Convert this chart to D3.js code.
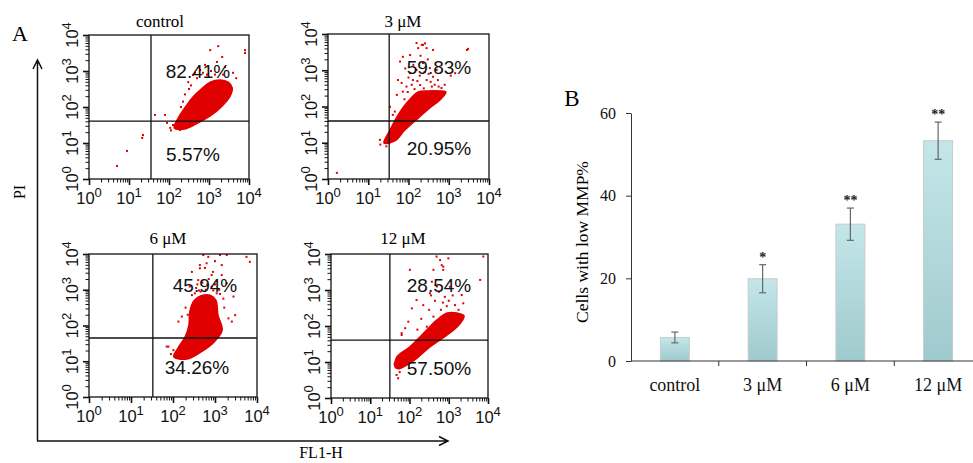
<!DOCTYPE html>
<html>
<head>
<meta charset="utf-8">
<script src="https://cdn.jsdelivr.net/npm/d3@7"></script>
<style>
  body { margin: 0; background: #fff; }
  svg { display: block; }
</style>
</head>
<body>
<svg></svg>
<script>
// --------------- DATA
// flow cytometry values are in log10 decades: [FL1-H, PI]

const panelNames = ['control', '3 \u03bcM', '6 \u03bcM', '12 \u03bcM'];
const upperRightPct = ['82.41%', '59.83%', '45.94%', '28.54%'];
const lowerRightPct = ['5.57%', '20.95%', '34.26%', '57.50%'];
const gateFL1 = [1.55, 1.52, 1.52, 1.50];
const gatePI = [1.61, 1.60, 1.65, 1.61];
const decades = [0, 1, 2, 3, 4];

// outline of the dense population
const controlCloud = [
  [2.13, 1.42], [2.23, 1.69], [2.43, 2.03], [2.60, 2.28], [2.78, 2.47], [3.03, 2.69],
  [3.28, 2.75], [3.48, 2.69], [3.58, 2.53], [3.53, 2.31], [3.33, 2.03], [3.03, 1.75],
  [2.68, 1.53], [2.38, 1.39]
];
const uM3Cloud = [
  [1.39, 0.99], [1.54, 1.35], [1.71, 1.71], [1.89, 2.01], [2.06, 2.23], [2.24, 2.40],
  [2.48, 2.43], [2.78, 2.43], [2.93, 2.40], [2.78, 2.18], [2.53, 1.96], [2.24, 1.68],
  [1.91, 1.35], [1.66, 1.05]
];
const uM6Cloud = [
  [2.02, 1.12], [2.12, 1.37], [2.29, 1.68], [2.38, 2.01], [2.40, 2.38], [2.50, 2.69],
  [2.67, 2.83], [2.88, 2.85], [3.02, 2.71], [3.07, 2.29], [3.17, 1.87], [2.98, 1.54],
  [2.67, 1.26], [2.33, 1.06]
];
const uM12Cloud = [
  [1.63, 0.86], [1.68, 1.14], [2.01, 1.42], [2.34, 1.78], [2.70, 2.17], [2.96, 2.36],
  [3.21, 2.36], [3.39, 2.28], [3.21, 1.97], [2.85, 1.67], [2.52, 1.42], [2.19, 1.11],
  [1.94, 0.92], [1.71, 0.81]
];

// scattered events outside the dense population
const controlDots = [
  [3.90, 3.58], [3.90, 3.50], [3.23, 3.69], [3.03, 3.58], [3.33, 3.39], [2.78, 3.03],
  [2.60, 2.89], [2.48, 2.69], [2.90, 3.17], [3.20, 3.25], [3.40, 3.11], [1.90, 1.78],
  [1.65, 1.78], [1.95, 1.56], [1.35, 1.22], [1.33, 1.14], [0.95, 0.78], [0.70, 0.36],
  [2.10, 1.50], [2.28, 1.36], [2.03, 1.42], [3.68, 2.80], [2.40, 2.35], [2.55, 2.60],
  [2.70, 2.80], [3.05, 3.00], [3.60, 2.95], [2.35, 2.15], [3.15, 2.90], [2.05, 1.35],
  [2.65, 2.95], [2.95, 2.90], [2.85, 2.95], [3.35, 2.90], [2.50, 2.50], [2.30, 2.00]
];
const uM3Dots = [
  [2.33, 3.70], [2.41, 3.74], [2.24, 3.61], [2.45, 3.61], [2.04, 3.42], [1.86, 3.37],
  [1.79, 3.24], [1.74, 2.73], [1.83, 2.65], [1.86, 2.41], [2.04, 2.92], [2.11, 2.73],
  [2.20, 3.01], [2.29, 2.59], [2.45, 2.73], [2.58, 2.55], [2.61, 2.82], [2.73, 2.73],
  [2.82, 2.51], [2.70, 3.01], [2.53, 3.06], [2.36, 3.20], [3.45, 3.56], [3.16, 2.92],
  [1.66, 1.86], [1.61, 1.77], [1.54, 1.99], [1.71, 2.32], [3.48, 3.59], [3.05, 2.85],
  [1.29, 1.08], [0.22, 0.17], [2.61, 3.56], [2.36, 3.70], [2.20, 3.75], [1.95, 2.55],
  [2.00, 2.80], [2.15, 2.48], [2.38, 2.50], [2.50, 2.90], [2.65, 2.60], [1.92, 3.05],
  [2.28, 2.85], [2.90, 2.60], [1.30, 0.95], [1.45, 0.90], [2.08, 2.60], [2.22, 2.70],
  [2.40, 2.95], [2.55, 2.68], [1.98, 2.40], [2.12, 3.15], [2.30, 3.40], [2.48, 3.30],
  [1.90, 2.20], [2.75, 2.55]
];
const uM6Dots = [
  [2.72, 3.97], [2.84, 3.92], [3.12, 3.97], [3.28, 3.97], [3.75, 3.92], [3.83, 3.78],
  [2.64, 3.69], [2.76, 3.61], [2.92, 3.41], [3.16, 3.69], [3.16, 3.41], [2.60, 3.27],
  [2.40, 3.09], [2.92, 3.09], [3.28, 3.18], [3.44, 2.81], [2.21, 2.25], [2.13, 2.11],
  [3.32, 2.20], [3.40, 2.11], [1.89, 1.41], [2.01, 1.31], [2.80, 3.74], [3.04, 2.90],
  [2.52, 2.90], [3.48, 2.29], [1.85, 1.41], [2.64, 3.60], [2.70, 3.20], [2.85, 3.30],
  [3.00, 3.15], [2.55, 3.05], [2.78, 3.00], [3.10, 3.00], [2.45, 2.85], [3.20, 2.75],
  [2.30, 2.50], [2.95, 3.50], [1.95, 1.20], [2.45, 3.50], [3.00, 3.80], [2.66, 2.95],
  [2.58, 3.15], [2.82, 3.15], [2.62, 2.98], [2.96, 2.98], [3.12, 2.88], [2.35, 2.30],
  [3.22, 2.50]
];
const uM12Dots = [
  [2.69, 3.93], [2.78, 3.83], [2.99, 3.88], [2.82, 3.69], [2.61, 3.56], [3.88, 3.93],
  [3.80, 3.28], [2.52, 2.91], [2.18, 2.72], [2.06, 2.49], [2.35, 2.58], [2.90, 2.81],
  [3.16, 2.58], [3.37, 2.63], [3.03, 3.09], [3.33, 2.86], [1.89, 1.94], [1.80, 1.75],
  [1.97, 2.12], [2.61, 2.26], [2.44, 1.98], [1.67, 0.64], [2.86, 3.56], [2.57, 3.23],
  [2.01, 3.56], [1.71, 0.55], [1.80, 1.80], [2.86, 3.65], [2.75, 2.95], [2.65, 2.70],
  [2.95, 2.55], [3.10, 2.85], [2.50, 2.45], [2.80, 2.45], [2.30, 2.20], [3.25, 2.45],
  [2.70, 3.10], [2.20, 1.90], [1.62, 0.95], [1.75, 0.72], [2.85, 2.65], [2.55, 2.85],
  [3.00, 2.70]
];

// bar chart (B)
const groups = ['control', '3 \u03bcM', '6 \u03bcM', '12 \u03bcM'];
const lowMMP = [5.7, 19.9, 33.1, 53.3];
const lowMMPErr = [1.3, 3.4, 3.9, 4.5];
const signif = ['', '*', '**', '**'];
const barTicks = [0, 20, 40, 60];

// --------------- setup
const width = 973;
const height = 463;
const svg = d3.select('svg').attr('width', width).attr('height', height);

const serif = '"Liberation Serif", "Times New Roman", serif';
const sans = '"Liberation Sans", Arial, sans-serif';
const red = '#e00000';

// --------------- A: flow panels
const panels = [
  { cloud: controlCloud, dots: controlDots, box: [89, 249, 179, 35],
    title: [160, 22], upper: [198, 71], lower: [193, 154] },
  { cloud: uM3Cloud, dots: uM3Dots, box: [328, 489, 179, 34],
    title: [403, 22], upper: [439, 67], lower: [439, 148] },
  { cloud: uM6Cloud, dots: uM6Dots, box: [89, 257, 397, 254],
    title: [168, 239], upper: [205, 285], lower: [197, 367] },
  { cloud: uM12Cloud, dots: uM12Dots, box: [331, 488, 398, 254],
    title: [403, 239], upper: [439, 285], lower: [439, 368] }
];

function isMajor(v) {
  return Math.abs(Math.log10(v) - Math.round(Math.log10(v))) < 1e-6;
}

const minorTicks = [];
decades.slice(0, 4).forEach(function (k) {
  for (let m = 1; m < 10; m++) minorTicks.push(m * Math.pow(10, k));
});
minorTicks.push(1e4);

function powLabel(g, x, y, exp, rotate) {
  const t = g.append('text')
    .attr('transform', 'translate(' + x + ',' + y + ')' + (rotate ? ' rotate(-90)' : ''))
    .attr('text-anchor', 'middle')
    .style('font-family', sans)
    .style('font-size', '16.5px')
    .attr('fill', '#111');
  t.append('tspan').text('10');
  t.append('tspan').attr('dy', -7).style('font-size', '13px').text(exp);
}

panels.forEach(function (p, i) {
  const b = p.box;
  const g = svg.append('g');

  const x = d3.scaleLog().domain([1, 1e4]).range([b[0], b[1]]);
  const y = d3.scaleLog().domain([1, 1e4]).range([b[2], b[3]]);
  const px = function (d) { return x(Math.pow(10, d[0])); };
  const py = function (d) { return y(Math.pow(10, d[1])); };

  // events
  g.append('path')
    .datum(p.cloud)
    .attr('d', d3.line().x(px).y(py).curve(d3.curveCatmullRomClosed))
    .attr('fill', red)
    .attr('stroke', red)
    .attr('stroke-width', 1.5);

  g.selectAll('rect.dot')
    .data(p.dots)
    .enter()
    .append('rect')
    .attr('class', 'dot')
    .attr('x', function (d) { return px(d) - 1; })
    .attr('y', function (d) { return py(d) - 1; })
    .attr('width', 2)
    .attr('height', 2)
    .attr('fill', red);

  // quadrant gates
  g.append('line')
    .attr('x1', x(Math.pow(10, gateFL1[i]))).attr('x2', x(Math.pow(10, gateFL1[i])))
    .attr('y1', b[2]).attr('y2', b[3])
    .attr('stroke', '#111').attr('stroke-width', 1.3);
  g.append('line')
    .attr('x1', b[0]).attr('x2', b[1])
    .attr('y1', y(Math.pow(10, gatePI[i]))).attr('y2', y(Math.pow(10, gatePI[i])))
    .attr('stroke', '#111').attr('stroke-width', 1.3);

  // frame
  g.append('rect')
    .attr('x', b[0]).attr('y', b[3])
    .attr('width', b[1] - b[0]).attr('height', b[2] - b[3])
    .attr('fill', 'none').attr('stroke', '#111').attr('stroke-width', 1.3);

  // axes
  const xAxis = g.append('g')
    .attr('transform', 'translate(0,' + b[2] + ')')
    .call(d3.axisBottom(x).tickValues(minorTicks).tickFormat('').tickSizeOuter(0));
  const yAxis = g.append('g')
    .attr('transform', 'translate(' + b[0] + ',0)')
    .call(d3.axisLeft(y).tickValues(minorTicks).tickFormat('').tickSizeOuter(0));
  [xAxis, yAxis].forEach(function (a) {
    a.select('.domain').remove();
    a.selectAll('.tick line')
      .attr('stroke', '#111')
      .attr('stroke-width', function (d) { return isMajor(d) ? 1.6 : 1; });
  });
  xAxis.selectAll('.tick line').attr('y2', function (d) { return isMajor(d) ? 6 : 3.5; });
  yAxis.selectAll('.tick line').attr('x2', function (d) { return isMajor(d) ? -6 : -3.5; });

  decades.forEach(function (k) {
    powLabel(g, x(Math.pow(10, k)), b[2] + 25, k, false);
    powLabel(g, b[0] - 11, y(Math.pow(10, k)), k, true);
  });

  // labels
  g.append('text')
    .attr('x', p.title[0]).attr('y', p.title[1] + 5)
    .attr('text-anchor', 'middle')
    .style('font-family', serif).style('font-size', '17px')
    .text(panelNames[i]);
  g.append('text')
    .attr('x', p.upper[0]).attr('y', p.upper[1] + 7)
    .attr('text-anchor', 'middle')
    .style('font-family', sans).style('font-size', '19px')
    .attr('fill', '#111')
    .text(upperRightPct[i]);
  g.append('text')
    .attr('x', p.lower[0]).attr('y', p.lower[1] + 7)
    .attr('text-anchor', 'middle')
    .style('font-family', sans).style('font-size', '19px')
    .attr('fill', '#111')
    .text(lowerRightPct[i]);
});

// big axes with arrows
svg.append('path')
  .attr('d', 'M37.5,441 L37.5,61 M33,69 L37.5,60 L42,69 M37,441 L447,441 M439,436.5 L448,441 L439,445.5')
  .attr('fill', 'none').attr('stroke', '#111').attr('stroke-width', 1.5);

svg.append('text')
  .attr('x', 20).attr('y', 41)
  .attr('text-anchor', 'middle')
  .style('font-family', serif).style('font-size', '22px')
  .text('A');
svg.append('text')
  .attr('transform', 'translate(25,192) rotate(-90)')
  .attr('text-anchor', 'middle')
  .style('font-family', serif).style('font-size', '16px')
  .text('PI');
svg.append('text')
  .attr('x', 321).attr('y', 458)
  .attr('text-anchor', 'middle')
  .style('font-family', serif).style('font-size', '16px')
  .text('FL1-H');

// --------------- B: bar chart
const bx = d3.scaleBand()
  .domain(groups)
  .range([631, 982])
  .paddingInner(0.67)
  .paddingOuter(0.335);
const by = d3.scaleLinear().domain([0, 60]).range([361, 113]);

const grad = svg.append('defs').append('linearGradient')
  .attr('id', 'barFill').attr('x1', 0).attr('y1', 0).attr('x2', 0).attr('y2', 1);
grad.append('stop').attr('offset', '0%').attr('stop-color', '#c4e6e9');
grad.append('stop').attr('offset', '100%').attr('stop-color', '#9fcacd');

const bars = svg.append('g');
bars.selectAll('rect')
  .data(lowMMP)
  .enter()
  .append('rect')
  .attr('x', function (d, i) { return bx(groups[i]); })
  .attr('y', function (d) { return by(d); })
  .attr('width', bx.bandwidth())
  .attr('height', function (d) { return by(0) - by(d); })
  .attr('fill', 'url(#barFill)')
  .attr('stroke', '#c6cccc')
  .attr('stroke-width', 1);

// error bars
const err = svg.append('g').attr('stroke', '#666').attr('stroke-width', 1.2);
lowMMP.forEach(function (v, i) {
  const cx = bx(groups[i]) + bx.bandwidth() / 2;
  const top = by(v + lowMMPErr[i]);
  const bot = by(v - lowMMPErr[i]);
  err.append('line').attr('x1', cx).attr('x2', cx).attr('y1', top).attr('y2', bot);
  err.append('line').attr('x1', cx - 3.5).attr('x2', cx + 3.5).attr('y1', top).attr('y2', top);
  err.append('line').attr('x1', cx - 3.5).attr('x2', cx + 3.5).attr('y1', bot).attr('y2', bot);
  if (signif[i]) {
    svg.append('text')
      .attr('x', cx).attr('y', top - 3)
      .attr('text-anchor', 'middle')
      .style('font-family', serif).style('font-size', '14px').style('font-weight', 'bold')
      .attr('fill', '#222')
      .text(signif[i]);
  }
});

// axes
const yAx = svg.append('g')
  .attr('transform', 'translate(631,0)')
  .call(d3.axisLeft(by).tickValues(barTicks).tickSize(5).tickSizeOuter(0).tickPadding(10));
yAx.select('.domain').attr('stroke', '#333');
yAx.selectAll('.tick line').attr('stroke', '#333');
yAx.selectAll('.tick text')
  .style('font-family', serif).style('font-size', '16px').attr('fill', '#111');

svg.append('line')
  .attr('x1', 631).attr('x2', width).attr('y1', by(0)).attr('y2', by(0))
  .attr('stroke', '#333').attr('stroke-width', 1);

groups.forEach(function (gname, i) {
  const edge = bx(gname) + bx.bandwidth() + bx.step() * bx.paddingInner() / 2;
  svg.append('line')
    .attr('x1', edge).attr('x2', edge).attr('y1', by(0)).attr('y2', by(0) + 5)
    .attr('stroke', '#333');
  svg.append('text')
    .attr('x', bx(gname) + bx.bandwidth() / 2).attr('y', 391)
    .attr('text-anchor', 'middle')
    .style('font-family', serif).style('font-size', '18px')
    .attr('fill', '#111')
    .text(gname);
});

svg.append('text')
  .attr('transform', 'translate(588,242) rotate(-90)')
  .attr('text-anchor', 'middle')
  .style('font-family', serif).style('font-size', '17.5px')
  .text('Cells with low MMP%');

svg.append('text')
  .attr('x', 572).attr('y', 106)
  .attr('text-anchor', 'middle')
  .style('font-family', serif).style('font-size', '23px')
  .text('B');
</script>
</body>
</html>
